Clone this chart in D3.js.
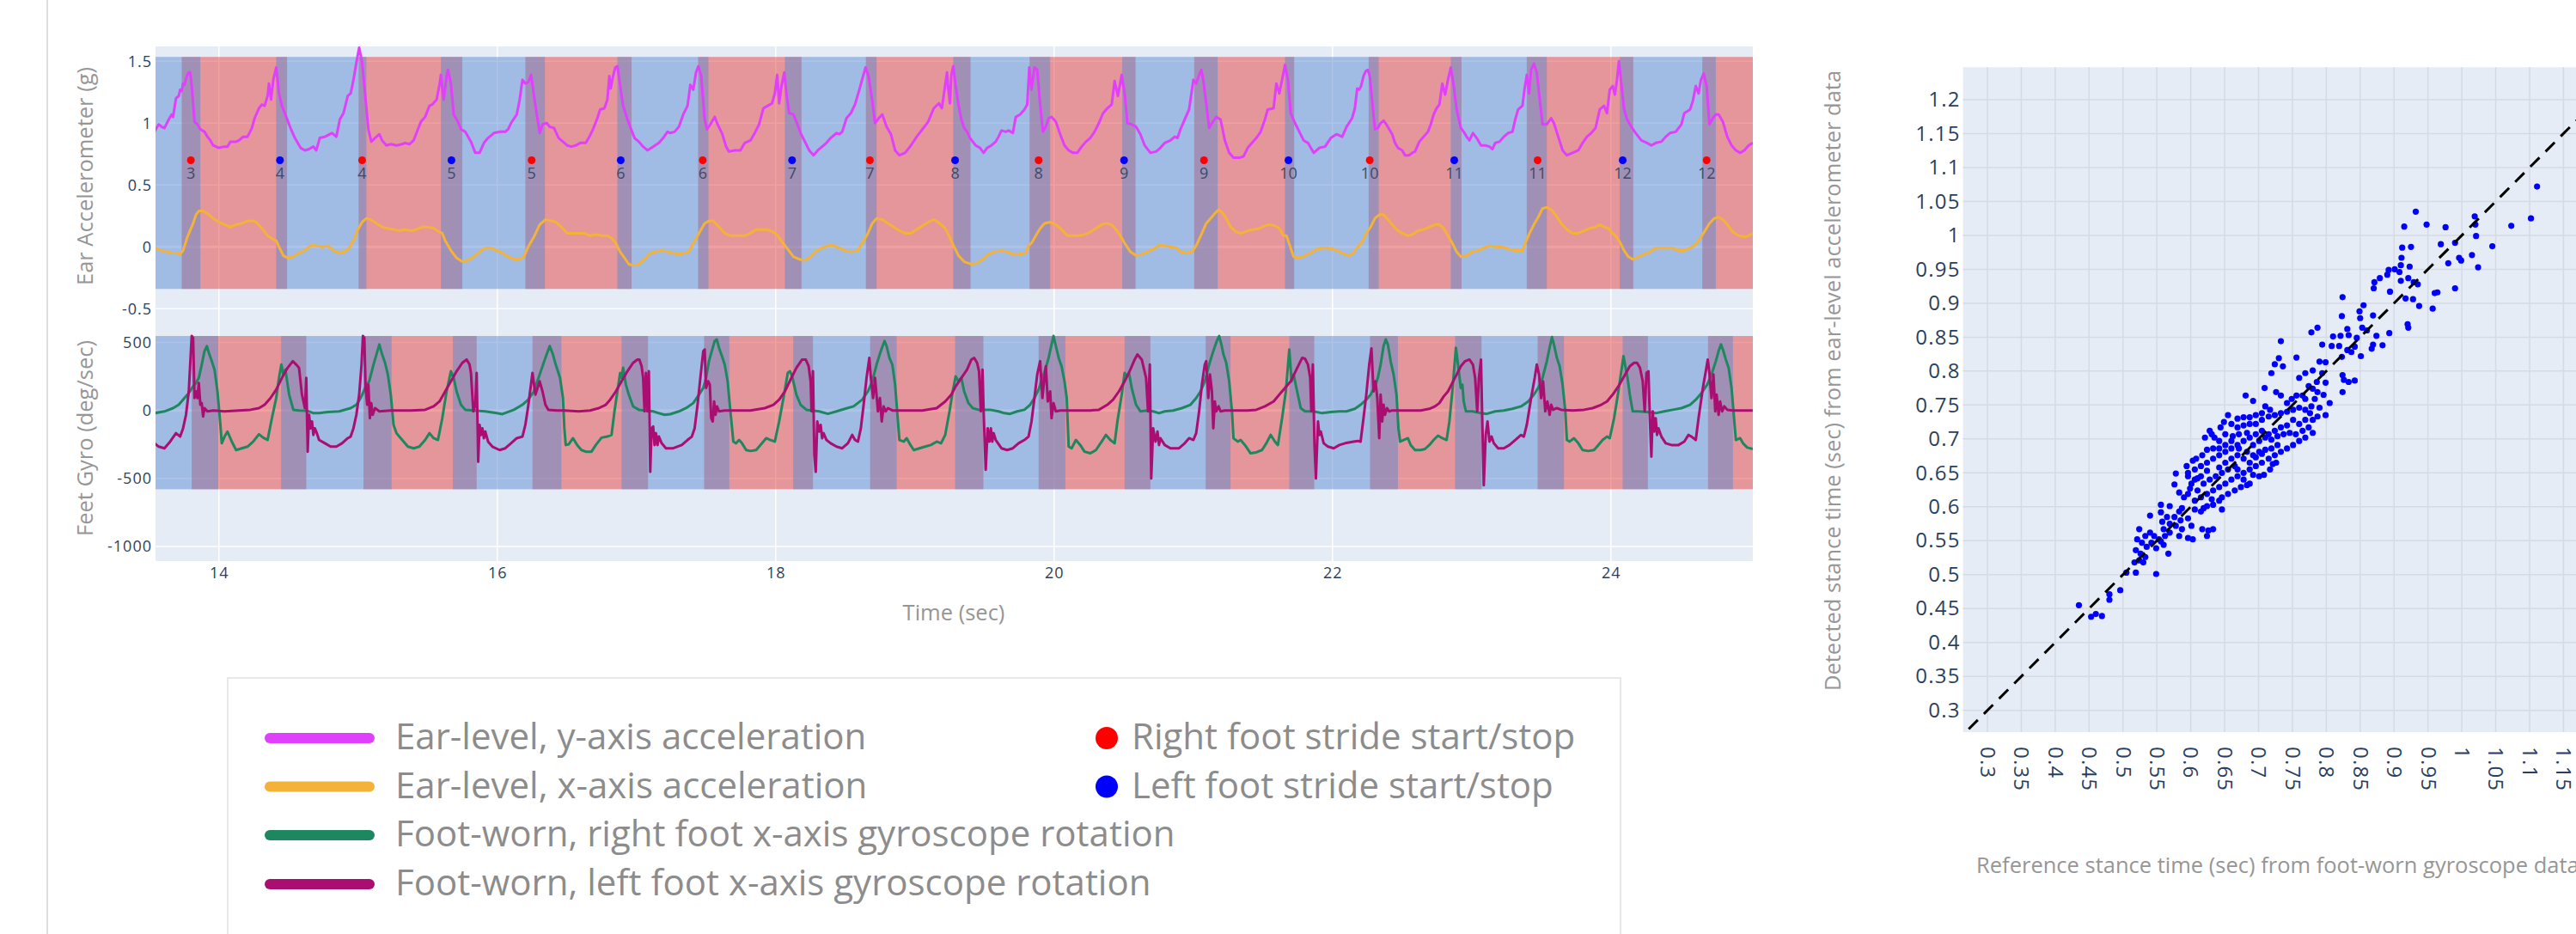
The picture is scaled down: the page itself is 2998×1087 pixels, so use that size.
<!DOCTYPE html>
<html>
<head>
<meta charset="utf-8">
<script src="https://cdn.jsdelivr.net/npm/d3@7"></script>
<style>
  body { margin: 0; background: #fff; overflow: hidden; }
  svg { display: block; font-family: "Open Sans", sans-serif; }
</style>
</head>
<body>
<svg id="chart" width="2998" height="1087"></svg>
<script>
// ---------- data ----------
const timeTicks = [14, 16, 18, 20, 22, 24]
const earTicks = [-0.5, 0, 0.5, 1, 1.5]
const gyroTicks = [-1000, -500, 0, 500]
const stanceTicks = [0.3, 0.35, 0.4, 0.45, 0.5, 0.55, 0.6, 0.65, 0.7, 0.75, 0.8, 0.85, 0.9, 0.95, 1, 1.05, 1.1, 1.15, 1.2]

// ear-level y-axis acceleration (g)  [time, value]
const earY = [[13.537,0.93],[13.568,0.99],[13.589,0.97],[13.609,0.96],[13.640,1.03],[13.661,1.07],[13.671,1.05],[13.692,1.20],[13.712,1.22],[13.722,1.27],[13.733,1.26],[13.743,1.32],[13.753,1.31],[13.770,1.38],[13.784,1.41],[13.794,1.41],[13.805,1.30],[13.825,1.01],[13.846,0.99],[13.867,0.95],[13.897,0.93],[13.918,0.89],[13.939,0.86],[13.959,0.82],[14.000,0.80],[14.041,0.81],[14.062,0.81],[14.083,0.85],[14.124,0.85],[14.144,0.86],[14.175,0.89],[14.206,0.89],[14.237,0.96],[14.257,1.04],[14.288,1.12],[14.309,1.15],[14.329,1.14],[14.350,1.22],[14.360,1.32],[14.375,1.19],[14.391,1.35],[14.412,1.45],[14.432,1.24],[14.453,1.14],[14.484,1.05],[14.515,0.96],[14.546,0.88],[14.587,0.80],[14.618,0.78],[14.648,0.79],[14.679,0.81],[14.700,0.78],[14.725,0.88],[14.762,0.89],[14.813,0.92],[14.844,0.89],[14.869,1.03],[14.895,1.08],[14.926,1.22],[14.947,1.24],[14.967,1.35],[14.988,1.49],[15.008,1.61],[15.029,1.49],[15.050,1.24],[15.074,0.95],[15.095,0.85],[15.122,0.88],[15.153,0.91],[15.173,0.86],[15.204,0.82],[15.235,0.83],[15.276,0.82],[15.317,0.83],[15.338,0.84],[15.369,0.83],[15.399,0.86],[15.430,0.95],[15.451,1.01],[15.482,1.05],[15.513,1.14],[15.533,1.15],[15.564,1.19],[15.585,1.31],[15.595,1.39],[15.615,1.19],[15.636,1.38],[15.646,1.43],[15.667,1.32],[15.687,1.07],[15.718,1.01],[15.739,0.95],[15.770,0.93],[15.811,0.85],[15.842,0.76],[15.873,0.76],[15.904,0.84],[15.934,0.88],[15.976,0.92],[16.017,0.93],[16.058,0.93],[16.078,0.95],[16.099,1.00],[16.140,1.07],[16.161,1.19],[16.181,1.35],[16.202,1.32],[16.222,1.33],[16.243,1.39],[16.264,1.22],[16.284,1.07],[16.305,0.92],[16.325,0.99],[16.356,1.00],[16.377,0.97],[16.408,0.96],
  [16.441,0.88],[16.472,0.85],[16.502,0.82],[16.533,0.81],[16.564,0.82],[16.595,0.84],[16.636,0.84],[16.657,0.88],[16.688,0.95],[16.719,1.04],[16.739,1.11],[16.770,1.12],[16.791,1.19],[16.805,1.38],[16.815,1.28],[16.832,1.38],[16.848,1.45],[16.863,1.46],[16.883,1.30],[16.904,1.14],[16.935,1.03],[16.955,0.97],[16.986,0.88],[17.017,0.85],[17.048,0.81],[17.079,0.78],[17.120,0.81],[17.161,0.84],[17.192,0.88],[17.223,0.93],[17.243,0.92],[17.274,0.93],[17.305,0.97],[17.336,1.07],[17.367,1.14],[17.387,1.31],[17.408,1.27],[17.428,1.41],[17.445,1.46],[17.465,1.38],[17.490,1.03],[17.507,0.95],[17.531,0.99],[17.562,1.05],[17.583,0.99],[17.614,0.92],[17.644,0.81],[17.665,0.77],[17.706,0.78],[17.747,0.78],[17.778,0.84],[17.819,0.86],[17.850,0.92],[17.881,0.99],[17.912,1.12],[17.943,1.14],[17.974,1.16],[17.994,1.24],[18.011,1.39],[18.025,1.16],[18.042,1.30],[18.062,1.41],[18.077,1.24],[18.097,1.08],[18.128,1.07],[18.149,1.01],[18.179,0.92],[18.210,0.85],[18.241,0.78],[18.272,0.74],[18.303,0.78],[18.334,0.81],[18.365,0.84],[18.395,0.88],[18.437,0.92],[18.457,0.91],[18.478,0.93],[18.509,1.04],[18.540,1.08],[18.570,1.15],[18.601,1.27],[18.628,1.38],[18.646,1.45],[18.667,1.38],[18.694,1.18],[18.714,1.00],[18.741,1.04],[18.766,1.07],[18.797,0.97],[18.828,0.91],[18.858,0.78],[18.889,0.74],[18.930,0.76],[18.972,0.82],[19.013,0.89],[19.054,0.95],[19.095,1.01],[19.136,1.12],[19.173,1.16],[19.194,1.12],
  [19.231,1.41],[19.241,1.27],[19.252,1.16],[19.262,1.39],[19.276,1.46],[19.293,1.30],[19.313,1.15],[19.334,1.03],[19.354,0.96],[19.375,0.93],[19.396,0.88],[19.416,0.85],[19.437,0.82],[19.468,0.80],[19.494,0.76],[19.519,0.80],[19.550,0.82],[19.581,0.85],[19.601,0.89],[19.622,0.94],[19.653,0.93],[19.673,0.94],[19.704,0.92],[19.725,1.05],[19.756,1.07],[19.787,1.11],[19.807,1.15],[19.822,1.45],[19.838,1.27],[19.859,1.45],[19.879,1.43],[19.900,1.15],[19.920,0.93],[19.941,0.97],[19.961,1.04],[19.982,1.05],[20.013,1.01],[20.044,0.91],[20.075,0.82],[20.105,0.78],[20.136,0.76],[20.167,0.76],[20.198,0.81],[20.229,0.85],[20.260,0.88],[20.291,0.93],[20.322,1.00],[20.352,1.08],[20.383,1.12],[20.414,1.15],[20.435,1.34],[20.459,1.22],[20.486,1.39],[20.507,1.24],[20.527,1.00],[20.558,0.99],[20.589,0.97],[20.620,0.91],[20.651,0.82],[20.692,0.76],[20.733,0.77],[20.764,0.80],[20.795,0.84],[20.836,0.86],[20.867,0.89],[20.887,0.88],[20.908,0.95],[20.939,1.03],[20.970,1.11],[21.001,1.35],[21.021,1.32],[21.042,1.39],[21.058,1.43],[21.073,1.34],[21.093,1.16],[21.114,0.96],[21.134,1.00],[21.165,1.05],[21.196,1.03],[21.227,0.86],[21.258,0.76],[21.289,0.72],[21.330,0.72],[21.361,0.73],[21.391,0.80],[21.422,0.84],[21.453,0.88],[21.484,0.93],[21.515,1.03],[21.535,1.11],[21.577,1.12],[21.597,1.32],[21.618,1.24],[21.638,1.35],[21.659,1.47],[21.680,1.35],[21.700,1.08],[21.731,1.00],[21.762,0.93],[21.793,0.86],[21.824,0.84],[21.865,0.76],[21.906,0.80],[21.947,0.81],[21.988,0.88],[22.029,0.91],[22.070,0.89],[22.101,0.97],
  [22.141,1.04],[22.161,1.12],[22.178,1.28],[22.192,1.27],[22.206,1.30],[22.223,1.38],[22.239,1.42],[22.254,1.43],[22.268,1.38],[22.285,1.18],[22.305,0.95],[22.326,0.96],[22.346,1.00],[22.367,1.02],[22.387,0.99],[22.408,0.95],[22.429,0.91],[22.449,0.84],[22.470,0.80],[22.501,0.78],[22.521,0.74],[22.552,0.74],[22.573,0.76],[22.593,0.77],[22.624,0.85],[22.655,0.89],[22.686,0.93],[22.706,0.99],[22.727,1.07],[22.748,1.12],[22.768,1.15],[22.789,1.32],[22.809,1.23],[22.830,1.35],[22.850,1.45],[22.871,1.30],[22.892,1.11],[22.922,0.96],[22.943,0.93],[22.964,0.89],[22.984,0.86],[23.009,0.92],[23.036,0.88],[23.067,0.82],[23.097,0.82],[23.128,0.81],[23.149,0.79],[23.169,0.84],[23.200,0.85],[23.231,0.89],[23.262,0.92],[23.293,0.93],[23.313,1.03],[23.334,1.11],[23.365,1.14],[23.379,1.27],[23.396,1.39],[23.412,1.24],[23.427,1.43],[23.447,1.48],[23.468,1.41],[23.488,1.20],[23.509,0.99],[23.540,0.99],[23.571,1.04],[23.591,1.00],[23.622,0.89],[23.653,0.78],[23.684,0.74],[23.725,0.76],[23.766,0.78],[23.797,0.84],[23.828,0.89],[23.859,0.92],[23.890,0.96],[23.920,1.11],[23.951,1.14],[23.972,1.08],[23.992,1.27],[24.013,1.30],[24.029,1.23],[24.044,1.35],[24.058,1.50],[24.075,1.32],[24.095,1.11],[24.116,1.03],[24.147,0.97],[24.178,0.92],[24.219,0.86],[24.260,0.84],[24.291,0.82],[24.322,0.84],[24.363,0.85],[24.394,0.89],[24.425,0.92],[24.466,0.93],[24.507,0.99],[24.527,1.08],[24.569,1.11],[24.589,1.18],[24.610,1.30],[24.630,1.24],[24.647,1.35],[24.667,1.40],[24.688,1.30],[24.708,0.99],[24.733,1.04],[24.754,1.07],[24.774,1.07],[24.805,1.01],[24.836,0.89],[24.867,0.82],[24.898,0.78],[24.929,0.76],[24.959,0.78],[24.990,0.82],[25.019,0.84]]

// ear-level x-axis acceleration (g)
const earX = [[13.537,-0.01],[13.589,-0.03],[13.630,-0.04],[13.661,-0.05],[13.692,-0.05],[13.722,-0.06],[13.743,-0.03],[13.774,0.08],[13.815,0.19],[13.836,0.26],[13.856,0.29],[13.887,0.29],[13.918,0.27],[13.959,0.23],[14.000,0.20],[14.041,0.18],[14.083,0.16],[14.124,0.18],[14.165,0.19],[14.206,0.21],[14.247,0.21],[14.268,0.20],[14.309,0.15],[14.350,0.09],[14.391,0.06],[14.412,0.05],[14.432,0.00],[14.463,-0.07],[14.494,-0.09],[14.535,-0.08],[14.576,-0.05],[14.618,-0.03],[14.659,0.01],[14.700,0.01],[14.741,0.00],[14.782,0.01],[14.823,-0.03],[14.864,-0.05],[14.906,-0.04],[14.936,-0.01],[14.967,0.05],[14.998,0.14],[15.029,0.20],[15.060,0.23],[15.091,0.22],[15.132,0.19],[15.173,0.16],[15.214,0.15],[15.255,0.14],[15.297,0.13],[15.338,0.14],[15.379,0.13],[15.420,0.14],[15.461,0.16],[15.502,0.16],[15.543,0.15],[15.585,0.12],[15.605,0.11],[15.626,0.05],[15.667,-0.03],[15.708,-0.09],[15.749,-0.12],[15.790,-0.11],[15.831,-0.08],[15.873,-0.04],[15.914,-0.01],[15.955,-0.01],[15.996,-0.03],[16.037,-0.05],[16.078,-0.08],[16.120,-0.10],[16.161,-0.10],[16.191,-0.08],[16.222,0.00],[16.263,0.08],[16.305,0.18],[16.346,0.22],[16.387,0.21],
  [16.420,0.20],[16.461,0.16],[16.502,0.11],[16.544,0.11],[16.585,0.11],[16.626,0.11],[16.667,0.09],[16.708,0.10],[16.749,0.09],[16.791,0.09],[16.821,0.07],[16.852,0.03],[16.883,-0.04],[16.914,-0.09],[16.945,-0.14],[16.976,-0.15],[17.017,-0.14],[17.058,-0.10],[17.099,-0.05],[17.140,-0.04],[17.181,-0.03],[17.223,-0.04],[17.264,-0.05],[17.305,-0.06],[17.346,-0.05],[17.377,-0.04],[17.408,0.03],[17.449,0.11],[17.490,0.19],[17.521,0.21],[17.552,0.21],[17.593,0.16],[17.634,0.11],[17.675,0.09],[17.737,0.09],[17.778,0.09],[17.819,0.11],[17.860,0.14],[17.902,0.14],[17.943,0.14],[17.984,0.12],[18.015,0.09],[18.046,0.04],[18.087,-0.02],[18.128,-0.08],[18.169,-0.10],[18.210,-0.11],[18.251,-0.08],[18.293,-0.03],[18.334,-0.01],[18.375,0.01],[18.416,0.01],[18.457,-0.01],[18.498,-0.03],[18.539,-0.04],[18.591,-0.03],[18.622,0.03],[18.663,0.11],[18.694,0.19],[18.725,0.23],[18.766,0.22],[18.807,0.19],[18.848,0.16],[18.889,0.13],[18.930,0.11],[18.972,0.11],[19.013,0.14],[19.054,0.17],[19.095,0.20],[19.136,0.22],[19.177,0.19],[19.218,0.15],[19.249,0.08],
  [19.282,0.00],[19.313,-0.07],[19.354,-0.12],[19.406,-0.14],[19.447,-0.13],[19.488,-0.10],[19.529,-0.06],[19.571,-0.04],[19.622,-0.03],[19.663,-0.04],[19.704,-0.06],[19.745,-0.06],[19.797,-0.05],[19.817,0.01],[19.838,0.03],[19.869,0.09],[19.900,0.15],[19.931,0.19],[19.972,0.20],[20.013,0.18],[20.054,0.14],[20.095,0.09],[20.136,0.09],[20.178,0.09],[20.219,0.10],[20.260,0.12],[20.301,0.15],[20.342,0.18],[20.373,0.19],[20.414,0.18],[20.445,0.14],[20.476,0.09],[20.507,0.03],[20.548,-0.04],[20.589,-0.07],[20.630,-0.06],[20.671,-0.04],[20.712,-0.02],[20.754,0.01],[20.795,0.01],[20.836,0.00],[20.877,-0.01],[20.908,-0.04],[20.949,-0.05],[20.990,-0.04],[21.021,0.01],[21.062,0.11],[21.093,0.19],[21.124,0.23],[21.155,0.27],[21.182,0.30],[21.206,0.28],[21.237,0.23],[21.268,0.16],[21.309,0.12],[21.350,0.11],[21.391,0.13],[21.433,0.14],[21.474,0.15],[21.515,0.17],[21.546,0.18],[21.587,0.17],[21.618,0.15],[21.649,0.09],[21.669,0.09],[21.700,-0.01],[21.721,-0.08],[21.762,-0.09],[21.803,-0.07],[21.844,-0.05],[21.885,-0.02],[21.926,-0.01],[21.968,-0.01],[22.009,-0.02],[22.050,-0.04],[22.091,-0.06],
  [22.120,-0.07],[22.151,-0.05],[22.182,0.00],[22.213,0.04],[22.243,0.11],[22.274,0.16],[22.305,0.23],[22.336,0.26],[22.367,0.26],[22.398,0.22],[22.429,0.18],[22.460,0.14],[22.501,0.11],[22.542,0.09],[22.573,0.10],[22.614,0.13],[22.655,0.14],[22.696,0.16],[22.737,0.18],[22.768,0.18],[22.799,0.15],[22.830,0.09],[22.861,0.03],[22.892,-0.04],[22.922,-0.08],[22.964,-0.07],[23.005,-0.04],[23.046,-0.03],[23.087,-0.01],[23.128,0.01],[23.169,0.00],[23.211,0.00],[23.272,-0.02],[23.313,-0.03],[23.365,-0.03],[23.385,0.03],[23.416,0.11],[23.447,0.18],[23.478,0.24],[23.509,0.31],[23.540,0.32],[23.571,0.30],[23.601,0.26],[23.643,0.19],[23.684,0.14],[23.725,0.11],[23.766,0.11],[23.807,0.13],[23.848,0.15],[23.890,0.16],[23.920,0.18],[23.951,0.16],[23.982,0.15],[24.003,0.12],[24.034,0.09],[24.064,0.04],[24.095,-0.03],[24.126,-0.08],[24.157,-0.10],[24.198,-0.08],[24.239,-0.06],[24.280,-0.04],[24.322,-0.01],[24.363,-0.01],[24.404,-0.01],[24.445,-0.01],[24.486,-0.03],[24.527,-0.03],[24.569,-0.01],[24.599,0.01],[24.630,0.05],[24.671,0.12],[24.708,0.19],[24.743,0.23],[24.774,0.24],[24.805,0.22],[24.836,0.18],[24.877,0.12],[24.918,0.09],[24.959,0.08],[24.990,0.09],[25.019,0.11]]

// right foot gyroscope x-axis (deg/sec)
const gyroRight = [[13.537,-20],[13.609,-7],[13.671,17],[13.712,42],[13.753,91],[13.784,128],[13.815,177],[13.836,202],[13.856,239],[13.877,337],[13.897,436],[13.914,473],[13.928,424],[13.949,362],[13.969,300],[13.990,140],[14.011,-106],[14.021,-241],[14.041,-192],[14.062,-155],[14.093,-229],[14.124,-291],[14.165,-278],[14.206,-266],[14.247,-229],[14.288,-175],[14.319,-200],[14.350,-217],[14.381,-57],[14.412,91],[14.432,239],[14.449,337],[14.463,264],[14.478,300],[14.505,116],[14.535,5],[14.576,0],[14.618,-2],[14.648,-7],[14.679,-20],[14.720,-20],[14.782,-12],[14.864,-7],[14.947,17],[14.988,42],[15.019,91],[15.050,165],[15.080,214],[15.111,337],[15.132,411],[15.153,485],[15.173,411],[15.194,350],[15.214,264],[15.235,116],[15.255,-106],[15.276,-167],[15.317,-217],[15.358,-266],[15.399,-278],[15.440,-266],[15.482,-217],[15.513,-167],[15.543,-204],[15.574,-217],[15.605,-57],[15.636,140],[15.667,288],[15.687,239],[15.708,140],[15.739,42],[15.770,5],[15.831,0],[15.914,-7],[15.996,-20],[16.037,-27],[16.120,5],[16.181,42],[16.222,79],[16.263,140],[16.305,264],[16.346,387],[16.377,473],
  [16.400,411],[16.420,337],[16.451,239],[16.472,91],[16.482,-131],[16.492,-254],[16.513,-249],[16.544,-204],[16.574,-254],[16.605,-291],[16.636,-303],[16.677,-303],[16.708,-254],[16.749,-200],[16.791,-192],[16.821,-180],[16.842,-7],[16.863,140],[16.883,276],[16.893,239],[16.904,313],[16.924,190],[16.945,116],[16.976,30],[17.017,5],[17.058,0],[17.120,-7],[17.161,-20],[17.202,-32],[17.243,-27],[17.305,-7],[17.356,17],[17.408,54],[17.449,116],[17.480,165],[17.500,239],[17.521,362],[17.541,436],[17.562,510],[17.577,522],[17.593,461],[17.614,399],[17.634,337],[17.655,214],[17.675,-7],[17.696,-229],[17.716,-241],[17.737,-217],[17.758,-241],[17.788,-291],[17.819,-298],[17.860,-291],[17.902,-241],[17.932,-204],[17.963,-217],[17.994,-229],[18.025,-81],[18.056,91],[18.087,276],[18.103,288],[18.118,251],[18.149,116],[18.179,42],[18.221,5],[18.262,0],[18.313,-7],[18.375,-25],[18.437,-7],[18.498,12],[18.560,30],[18.622,79],[18.663,140],[18.694,214],[18.725,337],[18.755,436],[18.782,510],[18.797,473],[18.817,387],[18.838,337],[18.858,190],[18.873,-7],[18.889,-217],[18.920,-229],[18.941,-204],[18.961,-241],[18.992,-291],[19.033,-278],[19.074,-266],[19.115,-254],[19.157,-229],[19.188,-241],[19.218,-180],[19.249,-7],
  [19.272,140],[19.293,251],[19.313,214],[19.334,239],[19.354,140],[19.385,54],[19.416,17],[19.457,5],[19.540,5],[19.601,-7],[19.643,-20],[19.684,-25],[19.735,-7],[19.787,5],[19.828,42],[19.859,91],[19.889,153],[19.916,239],[19.941,313],[19.961,387],[19.982,485],[19.996,547],[20.013,473],[20.033,387],[20.054,325],[20.075,214],[20.091,91],[20.105,-266],[20.126,-278],[20.157,-217],[20.188,-254],[20.219,-303],[20.260,-315],[20.301,-291],[20.342,-229],[20.373,-180],[20.404,-217],[20.435,-241],[20.455,-81],[20.486,116],[20.507,276],[20.523,251],[20.538,276],[20.558,165],[20.589,42],[20.620,-7],[20.671,0],[20.712,-7],[20.754,-20],[20.795,-7],[20.856,0],[20.918,17],[20.980,42],[21.021,91],[21.052,140],[21.083,214],[21.114,337],[21.144,436],[21.169,510],[21.186,547],[21.202,485],[21.217,411],[21.237,350],[21.258,214],[21.278,-7],[21.289,-204],[21.320,-229],[21.340,-217],[21.371,-254],[21.412,-315],[21.453,-308],[21.494,-291],[21.525,-241],[21.556,-180],[21.587,-229],[21.608,-254],[21.638,-57],[21.665,140],[21.690,448],[21.706,214],[21.721,264],[21.741,165],[21.772,17],[21.803,-7],[21.865,-7],[21.926,-20],[21.988,-12],[22.050,-7],[22.101,-7],
  [22.161,12],[22.202,42],[22.243,79],[22.274,116],[22.305,177],[22.326,239],[22.346,337],[22.367,473],[22.383,522],[22.398,485],[22.418,362],[22.439,264],[22.460,116],[22.474,-131],[22.486,-229],[22.511,-217],[22.542,-204],[22.562,-254],[22.593,-291],[22.634,-291],[22.665,-283],[22.696,-254],[22.727,-217],[22.758,-185],[22.789,-204],[22.820,-217],[22.840,-81],[22.861,140],[22.877,337],[22.887,461],[22.902,337],[22.922,165],[22.933,190],[22.943,66],[22.959,-7],[23.005,-7],[23.067,-20],[23.108,-25],[23.169,-7],[23.231,0],[23.293,12],[23.355,30],[23.406,66],[23.447,116],[23.478,165],[23.509,239],[23.540,362],[23.560,461],[23.577,539],[23.591,485],[23.612,387],[23.632,325],[23.653,190],[23.673,-7],[23.684,-217],[23.704,-229],[23.735,-204],[23.766,-241],[23.797,-291],[23.838,-298],[23.879,-291],[23.910,-254],[23.941,-217],[23.972,-192],[23.992,-204],[24.023,-57],[24.054,140],[24.075,288],[24.091,399],[24.106,313],[24.120,239],[24.136,116],[24.157,-7],[24.198,-7],[24.260,-12],[24.322,-20],[24.383,-7],[24.445,5],[24.507,17],[24.569,42],[24.610,79],[24.651,128],[24.692,190],[24.723,264],[24.754,362],[24.774,436],[24.791,485],[24.805,448],[24.826,374],[24.846,313],[24.867,165],[24.887,-81],[24.898,-217],[24.929,-204],[24.949,-241],[24.980,-273],[25.019,-283]]

// left foot gyroscope x-axis (deg/sec)
const gyroLeft = [[13.537,-241],[13.568,-266],[13.609,-278],[13.650,-229],[13.692,-167],[13.722,-192],[13.743,-131],[13.764,-32],[13.784,140],[13.794,337],[13.805,547],[13.815,534],[13.825,91],[13.836,140],[13.846,91],[13.856,202],[13.867,42],[13.877,54],[13.887,-44],[13.897,17],[13.918,-7],[13.959,0],[14.041,-7],[14.144,0],[14.227,5],[14.288,17],[14.329,42],[14.371,91],[14.412,153],[14.453,239],[14.494,313],[14.531,362],[14.556,337],[14.576,313],[14.597,116],[14.618,17],[14.628,239],[14.638,-303],[14.648,-32],[14.659,-131],[14.669,-81],[14.679,-180],[14.689,-131],[14.704,-167],[14.720,-217],[14.762,-241],[14.803,-266],[14.844,-266],[14.885,-241],[14.926,-204],[14.947,-192],[14.967,-131],[14.988,-32],[15.008,116],[15.025,337],[15.035,547],[15.045,534],[15.054,165],[15.066,42],[15.074,190],[15.085,-57],[15.095,54],[15.105,-32],[15.122,17],[15.153,-7],[15.235,0],[15.379,0],[15.482,5],[15.543,30],[15.585,66],[15.626,140],[15.667,214],[15.708,288],[15.749,350],[15.780,374],[15.801,337],[15.811,276],[15.828,-7],[15.842,42],[15.852,276],[15.863,-377],[15.873,-106],[15.883,-180],[15.893,-131],[15.904,-204],[15.914,-155],[15.934,-229],[15.965,-266],[16.017,-291],[16.058,-278],[16.099,-241],[16.140,-204],[16.181,-192],[16.202,-106],[16.222,30],[16.253,276],[16.274,116],[16.305,214],[16.325,140],[16.346,42],[16.367,5],[16.428,0],
  [16.482,0],[16.585,-7],[16.667,0],[16.729,17],[16.780,42],[16.811,79],[16.852,140],[16.893,214],[16.935,288],[16.976,350],[17.007,374],[17.021,374],[17.037,325],[17.048,239],[17.058,-7],[17.068,276],[17.079,-7],[17.089,288],[17.099,-451],[17.109,-131],[17.120,-118],[17.130,-254],[17.140,-167],[17.151,-254],[17.161,-192],[17.181,-241],[17.212,-278],[17.264,-278],[17.326,-254],[17.367,-217],[17.398,-192],[17.418,-131],[17.439,42],[17.459,239],[17.480,436],[17.490,448],[17.500,165],[17.515,214],[17.527,190],[17.537,-57],[17.548,-81],[17.558,66],[17.568,-32],[17.579,30],[17.593,-7],[17.634,0],[17.819,0],[17.922,17],[17.984,42],[18.025,79],[18.066,140],[18.107,227],[18.149,313],[18.190,374],[18.216,374],[18.237,325],[18.251,214],[18.258,-7],[18.268,288],[18.278,-328],[18.288,-451],[18.299,-81],[18.313,-155],[18.323,-106],[18.334,-204],[18.344,-167],[18.365,-217],[18.395,-241],[18.437,-266],[18.478,-278],[18.519,-241],[18.550,-180],[18.570,-217],[18.591,-229],[18.612,-131],[18.632,42],[18.653,239],[18.673,386],[18.684,239],[18.700,91],[18.714,239],[18.735,-7],[18.749,91],[18.762,-81],[18.776,30],[18.790,-7],[18.807,17],[18.838,0],[18.951,0],[19.054,0],[19.157,17],[19.218,66],
  [19.262,116],[19.293,177],[19.334,239],[19.375,300],[19.406,374],[19.426,386],[19.447,350],[19.461,288],[19.474,-7],[19.486,300],[19.494,-7],[19.509,-436],[19.523,-131],[19.536,-229],[19.546,-131],[19.556,-229],[19.566,-167],[19.581,-217],[19.622,-278],[19.663,-291],[19.704,-278],[19.745,-241],[19.787,-217],[19.817,-192],[19.838,-81],[19.859,91],[19.879,264],[19.900,362],[19.916,91],[19.931,239],[19.941,325],[19.955,66],[19.972,140],[19.982,-57],[19.996,54],[20.013,-7],[20.044,0],[20.157,0],[20.260,0],[20.322,5],[20.383,42],[20.424,79],[20.466,140],[20.507,214],[20.548,300],[20.579,374],[20.599,411],[20.630,374],[20.661,239],[20.675,-7],[20.688,337],[20.698,-500],[20.712,-131],[20.729,-229],[20.743,-155],[20.754,-254],[20.764,-204],[20.795,-254],[20.836,-278],[20.898,-278],[20.939,-241],[20.970,-204],[21.001,-217],[21.021,-167],[21.042,-7],[21.062,190],[21.083,337],[21.093,362],[21.108,91],[21.120,264],[21.134,140],[21.144,-131],[21.155,66],[21.165,-7],[21.182,30],[21.196,-7],[21.227,0],[21.289,0],[21.391,0],[21.453,5],[21.515,30],[21.577,66],[21.618,116],[21.659,165],[21.700,214],[21.741,300],[21.782,386],[21.803,380],[21.824,337],[21.840,239],[21.848,-7],[21.859,337],[21.871,-254],[21.881,-500],[21.896,-81],[21.906,-180],[21.916,-155],[21.937,-241],[21.968,-266],[22.009,-278],[22.050,-254],[22.091,-241],
  [22.151,-229],[22.182,-224],[22.202,-229],[22.223,-57],[22.243,116],[22.264,337],[22.280,456],[22.295,140],[22.309,214],[22.322,91],[22.336,-204],[22.346,116],[22.357,-81],[22.367,42],[22.377,-32],[22.392,17],[22.408,-7],[22.429,0],[22.532,0],[22.634,0],[22.696,12],[22.737,30],[22.768,54],[22.799,103],[22.830,140],[22.861,202],[22.892,264],[22.922,325],[22.953,362],[22.984,374],[23.009,337],[23.025,239],[23.040,-7],[23.052,239],[23.067,374],[23.077,-106],[23.087,-549],[23.101,-180],[23.114,-81],[23.128,-229],[23.143,-192],[23.159,-241],[23.190,-278],[23.231,-278],[23.272,-254],[23.313,-217],[23.355,-180],[23.375,-192],[23.396,-106],[23.427,91],[23.453,239],[23.468,337],[23.484,264],[23.499,91],[23.513,214],[23.529,-7],[23.544,66],[23.560,-32],[23.571,42],[23.585,5],[23.612,17],[23.643,5],[23.725,0],[23.807,5],[23.869,17],[23.931,42],[23.972,66],[24.013,116],[24.054,177],[24.095,251],[24.136,325],[24.167,350],[24.188,350],[24.209,313],[24.229,214],[24.243,-7],[24.256,276],[24.270,288],[24.280,-57],[24.291,-340],[24.301,-7],[24.311,-155],[24.322,-57],[24.332,-180],[24.342,-131],[24.363,-192],[24.394,-241],[24.435,-254],[24.486,-254],[24.527,-229],[24.558,-180],[24.579,-192],[24.610,-217],[24.630,-57],[24.661,165],[24.682,288],[24.696,374],[24.708,276],[24.723,91],[24.737,264],[24.750,-7],[24.760,116],[24.774,-32],[24.785,66],[24.799,-7],[24.815,30],[24.836,5],[24.877,0],[24.959,0],[25.019,0]]

// stance periods (sec): ear-level detection (top) and gyroscope reference (bottom)
const earRightStance = [[13.733,14.490],[15.004,15.749],[16.202,16.965],[17.443,18.186],[18.648,19.400],[19.824,20.585],[21.007,21.725],[22.260,22.927],[23.396,24.161],[24.657,25.02]]
const earLeftStance = [[13.545,13.867],[14.412,15.060],[15.595,16.342],[16.863,17.517],[18.066,18.725],[19.276,19.972],[20.490,21.175],[21.659,22.332],[22.850,23.540],[24.064,24.754]]
const gyroRightStance = [[13.805,14.628],[15.039,15.852],[16.253,17.083],[17.486,18.268],[18.679,19.492],[19.889,20.692],[21.089,21.869],[22.270,23.071],[23.474,24.266],[24.698,25.02]]
const gyroLeftStance = [[13.545,13.996],[14.447,15.241],[15.681,16.461],[16.893,17.667],[18.126,18.869],[19.289,20.081],[20.507,21.268],[21.690,22.470],[22.881,23.663],[24.085,24.877]]
const earShadeRange = [-0.34, 1.535]
const gyroShadeRange = [-579, 547]

// stride start/stop markers
const strideTimes = [13.799,14.439,15.029,15.671,16.247,16.887,17.476,18.118,18.677,19.289,19.889,20.503,21.077,21.684,22.268,22.875,23.474,24.085,24.688]
const strideFoot = ['R','L','R','L','R','L','R','L','R','L','R','L','R','L','R','L','R','L','R']
const strideNumber = [3,4,4,5,5,6,6,7,7,8,8,9,9,10,10,11,11,12,12]
const strideLevel = 0.7
const strideLabelLevel = 0.595

// stance time comparison [reference (gyro), detected (ear)]
const stancePairs = [[0.932,1.035],[0.915,1.013],[0.948,1.016],[0.976,1.012],[1.019,1.028],[1.020,1.016],[1.073,1.014],[1.021,0.999],[0.912,0.982],[0.925,0.983],[0.969,0.987],[0.990,0.989],[1.045,0.984],[0.911,0.967],[0.923,0.954],[0.910,0.956],[0.892,0.949],[0.901,0.950],[0.890,0.942],[0.908,0.946],[0.980,0.959],[0.996,0.967],[0.999,0.963],[1.015,0.971],[1.024,0.953],[0.871,0.931],[0.879,0.937],[0.870,0.922],[0.894,0.917],[0.910,0.933],[0.921,0.937],[0.935,0.928],[0.929,0.931],[0.990,0.922],[0.960,0.915],[0.964,0.916],[0.957,0.892],[0.917,0.907],[0.928,0.906],[0.937,0.896],[0.920,0.869],[0.921,0.864],[0.824,0.909],[0.849,0.888],[0.855,0.897],[0.823,0.881],[0.850,0.878],[0.869,0.882],[0.860,0.860],[0.853,0.864],[0.831,0.862],[0.833,0.853],[0.821,0.852],[0.810,0.851],[0.845,0.849],[0.874,0.852],[0.893,0.856],[0.883,0.838],[0.869,0.839],[0.867,0.833],[0.851,0.822],[0.819,0.837],[0.808,0.837],[0.794,0.839],[0.823,0.821],[0.831,0.831],[0.837,0.828],[0.842,0.836],[0.790,0.814],[0.799,0.813],[0.778,0.857],[0.787,0.864],[0.733,0.844],[0.730,0.819],[0.756,0.820],[0.736,0.807],[0.724,0.810],[0.719,0.797],[0.824,0.794],[0.826,0.787],[0.833,0.784],[0.842,0.786],[0.824,0.769],[0.799,0.783],[0.794,0.797],[0.786,0.784],[0.780,0.801],[0.769,0.797],[0.760,0.790],[0.774,0.778],[0.780,0.774],[0.787,0.769],[0.796,0.765],[0.805,0.753],[0.799,0.735],[0.790,0.746],[0.783,0.759],[0.778,0.748],[0.769,0.759],[0.765,0.764],[0.756,0.764],[0.749,0.759],[0.733,0.764],[0.742,0.753],[0.726,0.769],[0.709,0.775],[0.681,0.764],[0.692,0.756],
  [0.710,0.748],[0.717,0.743],[0.705,0.738],[0.696,0.735],[0.687,0.732],[0.678,0.732],[0.669,0.730],[0.655,0.735],[0.649,0.725],[0.644,0.717],[0.660,0.722],[0.669,0.717],[0.678,0.720],[0.687,0.722],[0.696,0.722],[0.705,0.728],[0.715,0.733],[0.724,0.735],[0.733,0.738],[0.742,0.740],[0.751,0.743],[0.760,0.746],[0.769,0.743],[0.776,0.738],[0.780,0.728],[0.787,0.733],[0.769,0.728],[0.760,0.722],[0.751,0.728],[0.742,0.720],[0.733,0.717],[0.724,0.712],[0.715,0.707],[0.705,0.712],[0.696,0.707],[0.687,0.702],[0.678,0.697],[0.669,0.691],[0.660,0.686],[0.651,0.681],[0.642,0.676],[0.633,0.671],[0.624,0.665],[0.615,0.660],[0.606,0.655],[0.596,0.650],[0.628,0.712],[0.631,0.707],[0.621,0.702],[0.635,0.702],[0.642,0.697],[0.651,0.707],[0.662,0.704],[0.671,0.707],[0.683,0.709],[0.692,0.691],[0.701,0.697],[0.710,0.702],[0.719,0.699],[0.728,0.704],[0.737,0.707],[0.746,0.709],[0.755,0.707],[0.765,0.712],[0.774,0.717],[0.780,0.709],[0.769,0.702],[0.760,0.697],[0.751,0.691],[0.742,0.686],[0.733,0.681],[0.724,0.676],[0.715,0.671],[0.705,0.665],[0.696,0.660],[0.687,0.655],[0.678,0.650],[0.669,0.645],[0.660,0.640],[0.651,0.634],[0.642,0.629],[0.633,0.624],[0.624,0.619],[0.615,0.614],[0.606,0.609],[0.683,0.681],[0.692,0.676],[0.701,0.681],[0.710,0.684],[0.719,0.686],[0.728,0.691],[0.721,0.663],[0.726,0.665],[0.717,0.655],[0.708,0.647],[0.701,0.645],[0.687,0.634],[0.683,0.632],[0.674,0.629],[0.665,0.624],[0.655,0.619],[0.646,0.614],[0.642,0.609],[0.633,0.603],[0.619,0.598],[0.646,0.596],[0.631,0.611],[0.610,0.624],[0.601,0.634],[0.596,0.645],[0.594,0.660],[0.603,0.668],[0.608,0.671],[0.617,0.676],[0.624,0.684],[0.633,0.686],[0.642,0.686],[0.651,0.691],[0.660,0.697],[0.669,0.676],[0.678,0.671],[0.687,0.665],[0.665,0.660],[0.655,0.655],[0.646,0.650],[0.637,0.645],[0.628,0.640],[0.619,0.634],[0.610,0.642],[0.624,0.653],[0.660,0.671],[0.651,0.665],[0.642,0.658],[0.669,0.655],[0.678,0.640],[0.692,0.647],[0.696,0.673],[0.705,0.678],[0.671,0.686],[0.615,0.645],[0.606,0.640],[0.578,0.649],[0.576,0.633],[0.583,0.621],[0.590,0.614],[0.596,0.619],[0.606,0.596],[0.615,0.593],[0.624,0.601],[0.587,0.598],[0.599,0.627],[0.569,0.601],[0.583,0.593],[0.576,0.585],[0.565,0.585],[0.558,0.578],[0.569,0.575],[0.578,0.572],[0.585,0.580],[0.596,0.583],[0.601,0.572],[0.587,0.567],[0.583,0.557],[0.596,0.554],[0.603,0.552],[0.617,0.567],[0.626,0.565],[0.633,0.567],[0.624,0.557],[0.569,0.562],[0.560,0.567],[0.562,0.557],[0.553,0.552],[0.546,0.557],[0.540,0.562],[0.533,0.557],[0.524,0.567],[0.521,0.552],[0.528,0.547],[0.535,0.541],[0.542,0.547],[0.549,0.539],[0.556,0.549],[0.560,0.544],[0.567,0.531],[0.519,0.536],[0.526,0.531],[0.533,0.526],[0.524,0.521],[0.517,0.518],[0.530,0.518],[0.540,0.587],[0.556,0.592],[0.505,0.503],[0.519,0.503],[0.549,0.501],[0.496,0.477],[0.480,0.471],[0.480,0.463],[0.435,0.455],[0.453,0.438],[0.460,0.442],[0.469,0.439],[0.556,0.603],[1.111,1.072],[1.102,1.025]]

const legendLines = ['Ear-level, y-axis acceleration', 'Ear-level, x-axis acceleration', 'Foot-worn, right foot x-axis gyroscope rotation', 'Foot-worn, left foot x-axis gyroscope rotation']
const legendMarkers = ['Right foot stride start/stop', 'Left foot stride start/stop']

// ---------- styles ----------
const colors = {
    earY: '#e040fb',
    earX: '#f5b238',
    gyroR: '#1f8760',
    gyroL: '#aa0e70',
    right: '#ff0000',
    left: '#0000ff'
}
const plotBg = '#e5ecf6'
const tickColor = '#2a3f5f'
const titleColor = '#969696'

const svg = d3.select('#chart')

// left vertical rule
svg.append('line').attr('x1', 55).attr('x2', 55).attr('y1', 0).attr('y2', 1087)
    .attr('stroke', '#d4d4d4').attr('stroke-width', 1.5)

// ---------- time series panel ----------
const x = d3.scaleLinear().domain([13.545, 25.02]).range([181, 2040])
const yEar = d3.scaleLinear().domain([-0.616, 1.62]).range([376, 54])
const yGyro = d3.scaleLinear().domain([-1107, 642]).range([653, 376])

svg.append('rect').attr('x', 181).attr('y', 54).attr('width', 2040 - 181).attr('height', 653 - 54).attr('fill', plotBg)

let defs = svg.append('defs')
defs.append('clipPath').attr('id', 'clipEar').append('rect').attr('x', 181).attr('y', 54).attr('width', 1859).attr('height', 322)
defs.append('clipPath').attr('id', 'clipGyro').append('rect').attr('x', 181).attr('y', 376).attr('width', 1859).attr('height', 277)
defs.append('clipPath').attr('id', 'clipStance').append('rect').attr('x', 2284.6).attr('y', 78.3).attr('width', 716).attr('height', 852 - 78.3)

// grid
let grid = svg.append('g')
grid.selectAll('.vgrid').data(timeTicks).enter().append('line')
    .attr('x1', d => x(d)).attr('x2', d => x(d)).attr('y1', 54).attr('y2', 653)
    .attr('stroke', '#fff').attr('stroke-width', 1.5)
grid.selectAll('.egrid').data(earTicks).enter().append('line')
    .attr('x1', 181).attr('x2', 2040).attr('y1', d => yEar(d)).attr('y2', d => yEar(d))
    .attr('stroke', '#fff').attr('stroke-width', d => d === 0 ? 3 : 1.5)
grid.selectAll('.ggrid').data(gyroTicks).enter().append('line')
    .attr('x1', 181).attr('x2', 2040).attr('y1', d => yGyro(d)).attr('y2', d => yGyro(d))
    .attr('stroke', '#fff').attr('stroke-width', d => d === 0 ? 3 : 1.5)

// stance shading, red first then blue on top
function shade(intervals, yScale, range, fill) {
    svg.append('g').selectAll('rect').data(intervals).enter().append('rect')
        .attr('x', d => x(d[0]))
        .attr('width', d => x(Math.min(d[1], 25.02)) - x(d[0]))
        .attr('y', yScale(range[1]))
        .attr('height', yScale(range[0]) - yScale(range[1]))
        .attr('fill', fill)
}
shade(earRightStance, yEar, earShadeRange, 'rgba(229,64,64,0.5)')
shade(earLeftStance, yEar, earShadeRange, 'rgba(91,138,210,0.5)')
shade(gyroRightStance, yGyro, gyroShadeRange, 'rgba(229,64,64,0.5)')
shade(gyroLeftStance, yGyro, gyroShadeRange, 'rgba(91,138,210,0.5)')

// traces
function trace(data, yScale, color, clip) {
    let line = d3.line().x(d => x(d[0])).y(d => yScale(d[1]))
    svg.append('path').datum(data)
        .attr('d', line)
        .attr('clip-path', 'url(#' + clip + ')')
        .attr('fill', 'none')
        .attr('stroke', color)
        .attr('stroke-width', 3)
        .attr('stroke-linejoin', 'round')
}
trace(earY, yEar, colors.earY, 'clipEar')
trace(earX, yEar, colors.earX, 'clipEar')
trace(gyroRight, yGyro, colors.gyroR, 'clipGyro')
trace(gyroLeft, yGyro, colors.gyroL, 'clipGyro')

// stride markers + numbers
let strides = strideTimes.map((t, i) => ({ t: t, foot: strideFoot[i], n: strideNumber[i] }))
svg.append('g').selectAll('circle').data(strides).enter().append('circle')
    .attr('cx', d => x(d.t)).attr('cy', yEar(strideLevel)).attr('r', 4.5)
    .attr('fill', d => d.foot === 'R' ? colors.right : colors.left)
svg.append('g').selectAll('text').data(strides).enter().append('text')
    .attr('x', d => x(d.t)).attr('y', yEar(strideLabelLevel)).attr('dy', '0.36em')
    .attr('text-anchor', 'middle')
    .attr('font-size', 18)
    .attr('fill', '#3b4a68')
    .text(d => d.n)

// axes
function styleAxis(g, size, spacing) {
    g.select('.domain').remove()
    g.attr('font-family', '"Open Sans", sans-serif').attr('font-size', size)
    g.selectAll('text').attr('fill', tickColor).style('letter-spacing', spacing + 'px')
}
let axEar = svg.append('g').attr('transform', 'translate(181,0)')
    .call(d3.axisLeft(yEar).tickValues(earTicks).tickSize(0).tickPadding(4).tickFormat(d => String(d)))
styleAxis(axEar, 18, 1)
let axGyro = svg.append('g').attr('transform', 'translate(181,0)')
    .call(d3.axisLeft(yGyro).tickValues(gyroTicks).tickSize(0).tickPadding(4).tickFormat(d => String(d)))
styleAxis(axGyro, 18, 1)
let axTime = svg.append('g').attr('transform', 'translate(0,653)')
    .call(d3.axisBottom(x).tickValues(timeTicks).tickSize(0).tickPadding(7))
styleAxis(axTime, 18, 1)

svg.append('text').attr('transform', 'translate(108,205) rotate(-90)')
    .attr('text-anchor', 'middle').attr('font-size', 25.5).attr('fill', titleColor)
    .text('Ear Accelerometer (g)')
svg.append('text').attr('transform', 'translate(108,510) rotate(-90)')
    .attr('text-anchor', 'middle').attr('font-size', 25.5).attr('fill', titleColor)
    .text('Feet Gyro (deg/sec)')
svg.append('text').attr('x', 1110).attr('y', 722)
    .attr('text-anchor', 'middle').attr('font-size', 25.5).attr('fill', titleColor)
    .text('Time (sec)')

// ---------- stance time scatter ----------
const xs = d3.scaleLinear().domain([0.264, 1.171]).range([2284.6, 3000])
const ys = d3.scaleLinear().domain([0.268, 1.2477]).range([852, 78.3])

svg.append('rect').attr('x', 2284.6).attr('y', 78.3).attr('width', 716).attr('height', 852 - 78.3).attr('fill', plotBg)

let sgrid = svg.append('g')
sgrid.selectAll('.sv').data(stanceTicks.filter(d => d <= xs.domain()[1])).enter().append('line')
    .attr('x1', d => xs(d)).attr('x2', d => xs(d)).attr('y1', 78.3).attr('y2', 852)
    .attr('stroke', '#d5dae3').attr('stroke-width', 1.5)
sgrid.selectAll('.sh').data(stanceTicks).enter().append('line')
    .attr('x1', 2284.6).attr('x2', 3000).attr('y1', d => ys(d)).attr('y2', d => ys(d))
    .attr('stroke', '#d5dae3').attr('stroke-width', 1.5)

svg.append('g').attr('clip-path', 'url(#clipStance)')
    .selectAll('circle').data(stancePairs).enter().append('circle')
    .attr('cx', d => xs(d[0])).attr('cy', d => ys(d[1])).attr('r', 3.6)
    .attr('fill', '#0000ff')

// identity line
svg.append('line').attr('clip-path', 'url(#clipStance)')
    .attr('x1', xs(0.25)).attr('y1', ys(0.25)).attr('x2', xs(1.3)).attr('y2', ys(1.3))
    .attr('stroke', '#000').attr('stroke-width', 3).attr('stroke-dasharray', '15,10')

const fmt = d => String(+d.toFixed(2))
let axSY = svg.append('g').attr('transform', 'translate(2284.6,0)')
    .call(d3.axisLeft(ys).tickValues(stanceTicks).tickSize(0).tickPadding(3).tickFormat(fmt))
styleAxis(axSY, 24, 1.2)
let axSX = svg.append('g').attr('transform', 'translate(0,852)')
    .call(d3.axisBottom(xs).tickValues(stanceTicks.filter(d => d <= 1.15)).tickSize(0).tickFormat(fmt))
styleAxis(axSX, 24, 1.2)
axSX.selectAll('text')
    .attr('x', 17).attr('y', 0).attr('dy', '0.36em')
    .attr('transform', 'rotate(90)')
    .style('text-anchor', 'start')

svg.append('text').attr('transform', 'translate(2142,443) rotate(-90)')
    .attr('text-anchor', 'middle').attr('font-size', 25.5).attr('fill', titleColor)
    .text('Detected stance time (sec) from ear-level accelerometer data')
svg.append('text').attr('x', 2300).attr('y', 1016)
    .attr('font-size', 25.5).attr('fill', titleColor)
    .text('Reference stance time (sec) from foot-worn gyroscope data')

// ---------- legend ----------
svg.append('rect').attr('x', 265).attr('y', 789).attr('width', 1886 - 265).attr('height', 340)
    .attr('fill', '#fff').attr('stroke', '#e8e8e8').attr('stroke-width', 2)

const rowY = [859, 915.5, 972, 1029]
const lineColors = [colors.earY, colors.earX, colors.gyroR, colors.gyroL]
let leg = svg.append('g')
leg.selectAll('line').data(legendLines).enter().append('line')
    .attr('x1', 314).attr('x2', 430).attr('y1', (d, i) => rowY[i]).attr('y2', (d, i) => rowY[i])
    .attr('stroke', (d, i) => lineColors[i]).attr('stroke-width', 12).attr('stroke-linecap', 'round')
leg.selectAll('.ltext').data(legendLines).enter().append('text')
    .attr('x', 460).attr('y', (d, i) => rowY[i] + 13)
    .attr('font-size', 42).attr('fill', '#8c8c8c')
    .text(d => d)
leg.selectAll('circle').data(legendMarkers).enter().append('circle')
    .attr('cx', 1288).attr('cy', (d, i) => rowY[i]).attr('r', 13)
    .attr('fill', (d, i) => i === 0 ? colors.right : colors.left)
leg.selectAll('.mtext').data(legendMarkers).enter().append('text')
    .attr('x', 1317).attr('y', (d, i) => rowY[i] + 13)
    .attr('font-size', 42).attr('fill', '#8c8c8c')
    .text(d => d)
</script>
</body>
</html>
